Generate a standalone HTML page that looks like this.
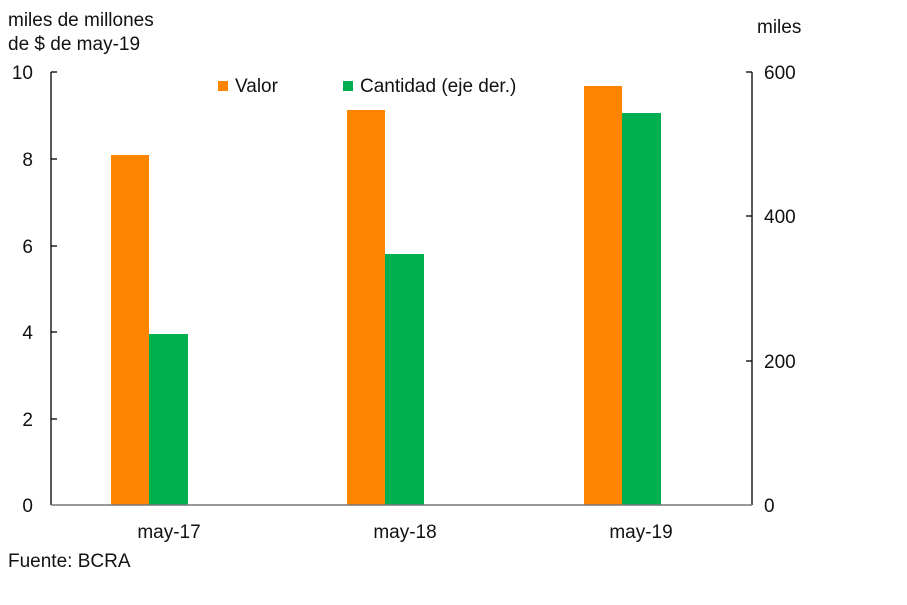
<!DOCTYPE html>
<html><head><meta charset="utf-8"><style>
html,body{margin:0;padding:0;background:#fff;}
svg{display:block;font-family:"Liberation Sans",sans-serif;}
</style></head><body>
<svg width="907" height="605" viewBox="0 0 907 605" xmlns="http://www.w3.org/2000/svg">
<g font-size="19" fill="#111">
<text x="8" y="26">miles de millones</text>
<text x="8" y="50">de $ de may-19</text>
<text x="757" y="33">miles</text>
</g>
<!-- bars -->
<rect x="111" y="155" width="38" height="350" fill="#ff8500"/>
<rect x="149" y="334" width="39" height="171" fill="#00b050"/>
<rect x="347" y="110" width="38" height="395" fill="#ff8500"/>
<rect x="385" y="254" width="39" height="251" fill="#00b050"/>
<rect x="584" y="86" width="38" height="419" fill="#ff8500"/>
<rect x="622" y="113" width="39" height="392" fill="#00b050"/>
<!-- axes -->
<line x1="51" y1="72" x2="51" y2="505" stroke="#000" stroke-width="1.3"/>
<line x1="752" y1="72" x2="752" y2="505" stroke="#000" stroke-width="1.3"/>
<line x1="51" y1="505" x2="752" y2="505" stroke="#777" stroke-width="1.5"/>
<g stroke="#000" stroke-width="1.3">
<line x1="51" y1="72" x2="57" y2="72"/><line x1="51" y1="159" x2="57" y2="159"/>
<line x1="51" y1="246" x2="57" y2="246"/><line x1="51" y1="332" x2="57" y2="332"/>
<line x1="51" y1="419" x2="57" y2="419"/>
<line x1="746" y1="72" x2="752" y2="72"/><line x1="746" y1="216" x2="752" y2="216"/>
<line x1="746" y1="361" x2="752" y2="361"/>
</g>
<g font-size="19" fill="#111" text-anchor="end">
<text x="33" y="79">10</text><text x="33" y="166">8</text><text x="33" y="253">6</text>
<text x="33" y="339">4</text><text x="33" y="426">2</text><text x="33" y="512">0</text>
</g>
<g font-size="19" fill="#111">
<text x="764" y="79">600</text><text x="764" y="223">400</text>
<text x="764" y="368">200</text><text x="764" y="512">0</text>
</g>
<g font-size="19" fill="#111" text-anchor="middle">
<text x="169" y="538">may-17</text><text x="405" y="538">may-18</text><text x="641" y="538">may-19</text>
</g>
<!-- legend -->
<rect x="218" y="81" width="10" height="10" fill="#ff8500"/>
<text x="235" y="92" font-size="19" fill="#111">Valor</text>
<rect x="343" y="81" width="10" height="10" fill="#00b050"/>
<text x="360" y="92" font-size="19" fill="#111">Cantidad (eje der.)</text>
<text x="8" y="567" font-size="19" fill="#111">Fuente: BCRA</text>
</svg>
</body></html>
